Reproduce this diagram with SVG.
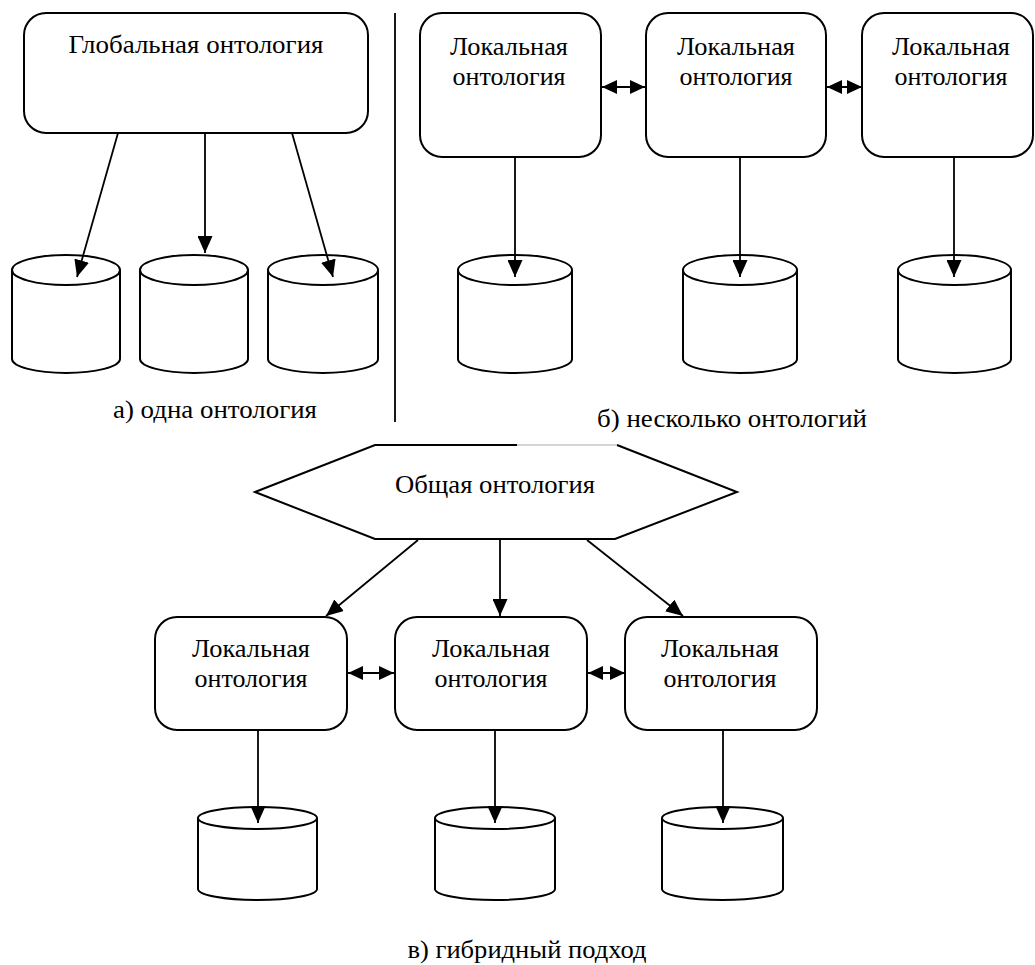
<svg xmlns="http://www.w3.org/2000/svg" width="1035" height="965" viewBox="0 0 1035 965">
<style>
.box{fill:#fff;stroke:#000;stroke-width:2}
.cyl{fill:#fff;stroke:#000;stroke-width:2}
.t{font-family:'Liberation Serif','DejaVu Serif',serif;font-size:25px;fill:#000;text-anchor:middle}
</style>
<defs>
<marker id="ah" markerUnits="userSpaceOnUse" markerWidth="17" markerHeight="15" refX="17" refY="7.5" orient="auto">
<path d="M0,0 L17,7.5 L0,15 Z" fill="#000"/>
</marker>
<marker id="ahs" markerUnits="userSpaceOnUse" markerWidth="15" markerHeight="14" refX="15" refY="7" orient="auto-start-reverse">
<path d="M0,0 L15,7 L0,14 Z" fill="#000"/>
</marker>
</defs>
<rect width="1035" height="965" fill="#fff"/>

<!-- divider -->
<line x1="395" y1="13" x2="395" y2="422" stroke="#000" stroke-width="1.8"/>

<!-- (a) one ontology -->
<g id="global-ontology">
<rect class="box" x="24" y="13" width="344" height="120" rx="22"/>
<text class="t" x="196" y="53" textLength="255" lengthAdjust="spacingAndGlyphs">Глобальная онтология</text>
</g>
<g id="db-a1"><path class="cyl" d="M12,270 A54,15 0 0 1 120,270 L120,359 A54,14 0 0 1 12,359 Z M12,270 A54,15 0 0 0 120,270"/></g>
<g id="db-a2"><path class="cyl" d="M140,270 A54,15 0 0 1 248,270 L248,359 A54,14 0 0 1 140,359 Z M140,270 A54,15 0 0 0 248,270"/></g>
<g id="db-a3"><path class="cyl" d="M268,270 A55,15 0 0 1 378,270 L378,359 A55,14 0 0 1 268,359 Z M268,270 A55,15 0 0 0 378,270"/></g>
<text id="label-a" class="t" x="215" y="418" textLength="204" lengthAdjust="spacingAndGlyphs">а) одна онтология</text>

<!-- (b) multiple ontologies -->
<g id="local-b1">
<rect class="box" x="420" y="13" width="181" height="144" rx="22"/>
<text class="t" x="509" y="55" textLength="118" lengthAdjust="spacingAndGlyphs">Локальная</text>
<text class="t" x="509" y="85" textLength="113" lengthAdjust="spacingAndGlyphs">онтология</text>
</g>
<g id="local-b2">
<rect class="box" x="646" y="13" width="180" height="144" rx="22"/>
<text class="t" x="736" y="55" textLength="118" lengthAdjust="spacingAndGlyphs">Локальная</text>
<text class="t" x="736" y="85" textLength="113" lengthAdjust="spacingAndGlyphs">онтология</text>
</g>
<g id="local-b3">
<rect class="box" x="862" y="13" width="171" height="144" rx="22"/>
<text class="t" x="951" y="55" textLength="118" lengthAdjust="spacingAndGlyphs">Локальная</text>
<text class="t" x="951" y="85" textLength="113" lengthAdjust="spacingAndGlyphs">онтология</text>
</g>
<g id="db-b1"><path class="cyl" d="M458,270 A57,15 0 0 1 572,270 L572,359 A57,14 0 0 1 458,359 Z M458,270 A57,15 0 0 0 572,270"/></g>
<g id="db-b2"><path class="cyl" d="M683,270 A57,15 0 0 1 797,270 L797,359 A57,14 0 0 1 683,359 Z M683,270 A57,15 0 0 0 797,270"/></g>
<g id="db-b3"><path class="cyl" d="M898,270 A56.5,15 0 0 1 1011,270 L1011,359 A56.5,14 0 0 1 898,359 Z M898,270 A56.5,15 0 0 0 1011,270"/></g>
<text id="label-b" class="t" x="732" y="427" textLength="270" lengthAdjust="spacingAndGlyphs">б) несколько онтологий</text>

<!-- (c) hybrid -->
<g id="shared-ontology">
<path class="box" d="M517,445 L375,445 L255,492 L375,539 L615,539 L737,492 L617,445" stroke-linejoin="miter"/>
<line x1="517" y1="445" x2="617" y2="445" stroke="#aaa" stroke-width="1"/>
<text class="t" x="495" y="493" textLength="200" lengthAdjust="spacingAndGlyphs">Общая онтология</text>
</g>
<g id="local-c1">
<rect class="box" x="155" y="617" width="192" height="113" rx="22"/>
<text class="t" x="251" y="657" textLength="118" lengthAdjust="spacingAndGlyphs">Локальная</text>
<text class="t" x="251" y="687" textLength="113" lengthAdjust="spacingAndGlyphs">онтология</text>
</g>
<g id="local-c2">
<rect class="box" x="395" y="617" width="192" height="113" rx="22"/>
<text class="t" x="491" y="657" textLength="118" lengthAdjust="spacingAndGlyphs">Локальная</text>
<text class="t" x="491" y="687" textLength="113" lengthAdjust="spacingAndGlyphs">онтология</text>
</g>
<g id="local-c3">
<rect class="box" x="625" y="617" width="192" height="113" rx="22"/>
<text class="t" x="720" y="657" textLength="118" lengthAdjust="spacingAndGlyphs">Локальная</text>
<text class="t" x="720" y="687" textLength="113" lengthAdjust="spacingAndGlyphs">онтология</text>
</g>
<g id="db-c1"><path class="cyl" d="M198,818 A59.5,11 0 0 1 317,818 L317,889 A59.5,11 0 0 1 198,889 Z M198,818 A59.5,11 0 0 0 317,818"/></g>
<g id="db-c2"><path class="cyl" d="M435,818 A60,11 0 0 1 555,818 L555,889 A60,11 0 0 1 435,889 Z M435,818 A60,11 0 0 0 555,818"/></g>
<g id="db-c3"><path class="cyl" d="M662,818 A60.5,11 0 0 1 783,818 L783,889 A60.5,11 0 0 1 662,889 Z M662,818 A60.5,11 0 0 0 783,818"/></g>
<text id="label-c" class="t" x="527" y="958" textLength="239" lengthAdjust="spacingAndGlyphs">в) гибридный подход</text>

<!-- connectors -->
<g id="connectors" fill="none" stroke="#000" stroke-width="1.8">
<line x1="118" y1="133" x2="77" y2="277" marker-end="url(#ah)"/>
<line x1="205" y1="133" x2="205" y2="253" marker-end="url(#ah)"/>
<line x1="292" y1="133" x2="333" y2="277" marker-end="url(#ah)"/>

<line x1="515" y1="157" x2="515" y2="277" marker-end="url(#ah)"/>
<line x1="740" y1="157" x2="740" y2="277" marker-end="url(#ah)"/>
<line x1="954" y1="157" x2="954" y2="277" marker-end="url(#ah)"/>
<line x1="602" y1="87" x2="645" y2="87" marker-start="url(#ahs)" marker-end="url(#ahs)"/>
<line x1="827" y1="87" x2="862" y2="87" marker-start="url(#ahs)" marker-end="url(#ahs)"/>

<line x1="418" y1="540" x2="326" y2="616" marker-end="url(#ah)"/>
<line x1="500" y1="540" x2="500" y2="616" marker-end="url(#ah)"/>
<line x1="587" y1="540" x2="683" y2="616" marker-end="url(#ah)"/>
<line x1="348" y1="673" x2="394" y2="673" marker-start="url(#ahs)" marker-end="url(#ahs)"/>
<line x1="588" y1="673" x2="625" y2="673" marker-start="url(#ahs)" marker-end="url(#ahs)"/>
<line x1="258" y1="730" x2="258" y2="823" marker-end="url(#ah)"/>
<line x1="495" y1="730" x2="495" y2="823" marker-end="url(#ah)"/>
<line x1="723" y1="730" x2="723" y2="823" marker-end="url(#ah)"/>
</g>
</svg>
